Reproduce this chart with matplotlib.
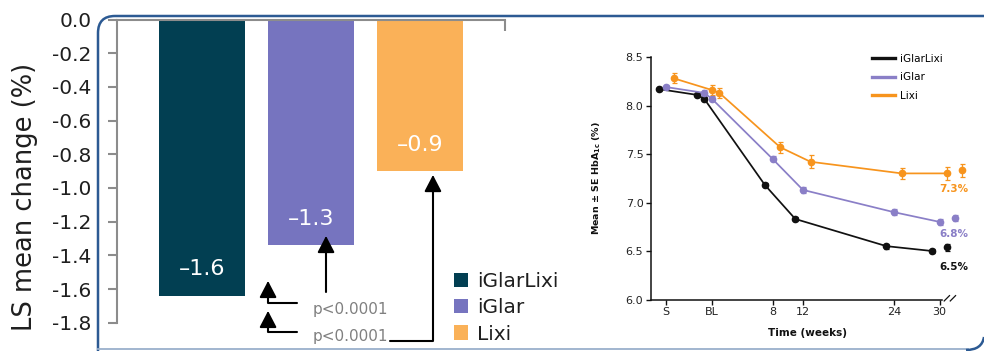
import matplotlib
matplotlib.use("Agg")
import matplotlib.pyplot as plt
from matplotlib.patches import Patch, FancyArrowPatch, PathPatch
from matplotlib.lines import Line2D
from matplotlib.path import Path
from matplotlib.transforms import Affine2D

# ---------------- data ----------------
treatments = ["iGlarLixi", "iGlar", "Lixi"]
ls_mean_change = [-1.64, -1.34, -0.90]
bar_colors = ["#023F52", "#7674BF", "#FAB158"]
yticks = [0.0, -0.2, -0.4, -0.6, -0.8, -1.0, -1.2, -1.4, -1.6, -1.8]
p_labels = ["p<0.0001", "p<0.0001"]

weeks = [-6, -1, 0, 8, 12, 24, 30]
week_ticks = [-6, 0, 8, 12, 24, 30]
week_labels = ["S", "BL", "8", "12", "24", "30"]
endpoint_week = 32
hba1c_ticks = [6.0, 6.5, 7.0, 7.5, 8.0, 8.5]

hba1c_iglarlixi = [8.17, 8.11, 8.07, 7.18, 6.83, 6.55, 6.50]
se_iglarlixi = [0.025, 0.02, 0.02, 0.025, 0.025, 0.025, 0.025]
end_iglarlixi, end_se_iglarlixi = 6.54, 0.035

hba1c_iglar = [8.19, 8.13, 8.07, 7.45, 7.13, 6.90, 6.80]
se_iglar = [0.025, 0.03, 0.025, 0.025, 0.03, 0.03, 0.03]
end_iglar, end_se_iglar = 6.84, 0.035

hba1c_lixi = [8.28, 8.16, 8.13, 7.57, 7.42, 7.30, 7.30]
se_lixi = [0.05, 0.05, 0.05, 0.055, 0.065, 0.06, 0.065]
end_lixi, end_se_lixi = 7.33, 0.065

line_colors = ["#111111", "#8A7FC7", "#F7941D"]

# ---------------- figure ----------------
W, H = 984, 351
fig = plt.figure(figsize=(W / 100, H / 100), dpi=100)
fig.patch.set_facecolor("white")


def rect(l, t, r, b):
    return [l / W, 1 - b / H, (r - l) / W, (b - t) / H]


pix = Affine2D().scale(1 / W, -1 / H).translate(0, 1) + fig.transFigure

# slide frame
frame = Path([(98, 351), (98, 33), (98, 16), (115, 16), (1000, 16)],
             [Path.MOVETO, Path.LINETO, Path.CURVE3, Path.CURVE3, Path.LINETO])
fig.add_artist(PathPatch(frame, transform=pix, fill=False, edgecolor="#2C5A93",
                         lw=1.8, zorder=0))
fig.add_artist(Line2D([98, 968], [349, 349], transform=pix, color="#9AB0CC",
                      lw=1.3, zorder=0))
corner = Path([(966, 350), (982, 350), (984, 337)],
              [Path.MOVETO, Path.CURVE3, Path.CURVE3])
fig.add_artist(PathPatch(corner, transform=pix, fill=False, edgecolor="#2C5A93",
                         lw=1.8, zorder=0))

# ---------------- bar chart ----------------
gray = "#8C8C8C"
ax = fig.add_axes(rect(117, 19.5, 505, 322.7))
xpos = list(range(len(treatments)))
ax.bar(xpos, ls_mean_change, width=0.79, color=bar_colors, zorder=1)
ax.set_xlim(-0.78, 2.78)
ax.set_ylim(-1.8, 0)
for side in ("right", "bottom"):
    ax.spines[side].set_visible(False)
for side in ("left", "top"):
    ax.spines[side].set_color(gray)
    ax.spines[side].set_linewidth(1.5)
ax.set_yticks(yticks)
ax.set_yticklabels([f"{v:.1f}" for v in yticks])
ax.tick_params(axis="y", direction="out", length=6.5, width=1.5, color=gray,
               pad=12, labelsize=14.5, labelcolor="#1F1F1F")
ax.xaxis.tick_top()
ax.set_xticks([2.78])
ax.set_xticklabels([])
ax.tick_params(axis="x", direction="in", length=8, width=1.5, color=gray)

fig.text(25 / W, 1 - 197 / H, "LS mean change (%)", rotation=90,
         ha="center", va="center", fontsize=18.5, color="#1F1F1F")

for xi, v in zip(xpos, ls_mean_change):
    ax.annotate(f"{v:.1f}".replace("-", "\u2013"), xy=(xi, v), xytext=(0, 19),
                textcoords="offset points", ha="center", va="center",
                color="white", fontsize=16)

# significance arrows
arrow_paths = [
    [(0.872, -1.682), (0.606, -1.682), (0.606, -1.552)],
    [(0.872, -1.855), (0.606, -1.855), (0.606, -1.730)],
    [(1.138, -1.617), (1.138, ls_mean_change[1] + 0.055)],
    [(1.725, -1.908), (2.119, -1.908), (2.119, ls_mean_change[2] - 0.023)],
]
for verts in arrow_paths:
    codes = [Path.MOVETO] + [Path.LINETO] * (len(verts) - 1)
    arr = FancyArrowPatch(path=Path(verts, codes),
                          arrowstyle="-|>,head_length=1.0,head_width=0.52",
                          mutation_scale=10, lw=1.5, color="black",
                          clip_on=False, zorder=3)
    ax.add_patch(arr)
for yv, txt in zip([-1.724, -1.884], p_labels):
    ax.text(1.018, yv, txt, color="#808080", fontsize=11, ha="left",
            va="center", clip_on=False)

fig.legend(handles=[Patch(facecolor=c) for c in bar_colors], labels=treatments,
           loc="upper left", bbox_to_anchor=(454 / W, 1 - 272 / H),
           frameon=False, fontsize=14.5, handlelength=0.7, handleheight=0.7,
           handletextpad=0.45, labelspacing=0.36, borderpad=0, borderaxespad=0,
           labelcolor="#1F1F1F")

# ---------------- HbA1c over time ----------------
ax2 = fig.add_axes(rect(651, 57, 970, 299.5))
ax2.set_xlim(-8, 34)
ax2.set_ylim(6.0, 8.5)
series = [
    (hba1c_iglarlixi, se_iglarlixi, end_iglarlixi, end_se_iglarlixi, -1),
    (hba1c_iglar, se_iglar, end_iglar, end_se_iglar, 0),
    (hba1c_lixi, se_lixi, end_lixi, end_se_lixi, 1),
]
for (vals, ses, ev, ese, dodge), col in zip(series, line_colors):
    xs = [w + dodge for w in weeks]
    ax2.errorbar(xs, vals, yerr=ses, color=col, lw=1.25, marker="o", ms=4.5,
                 capsize=1.8, elinewidth=0.9, capthick=0.9, clip_on=False,
                 zorder=3)
    ax2.errorbar([endpoint_week + dodge], [ev], yerr=[ese], color=col,
                 marker="o", ms=4.5, capsize=1.8, elinewidth=0.9, capthick=0.9,
                 ls="none", clip_on=False, zorder=3)

label_offsets = [(5, -14.5), (-1, -11.5), (-6, -13)]
for (vals, ses, ev, ese, dodge), col, off in zip(series, line_colors, label_offsets):
    ax2.annotate(f"{ev:.1f}%", xy=(endpoint_week + dodge, ev), xytext=off,
                 textcoords="offset points", ha="center", va="center",
                 color=col, fontsize=7.5, fontweight="bold")

for side in ("right", "top"):
    ax2.spines[side].set_visible(False)
for side in ("left", "bottom"):
    ax2.spines[side].set_linewidth(1.1)
    ax2.spines[side].set_color("#111111")
ax2.spines["bottom"].set_bounds(-8, 30.3)
ax2.set_yticks(hba1c_ticks)
ax2.set_yticklabels([f"{v:.1f}" for v in hba1c_ticks])
ax2.set_xticks(week_ticks)
ax2.set_xticklabels(week_labels)
ax2.tick_params(length=3.5, width=1, pad=2, labelsize=8, color="#111111",
                labelcolor="#222222")
# axis break mark
for x0 in (30.6, 31.4):
    ax2.plot([x0, x0 + 0.7], [5.985, 6.04], color="#111111", lw=0.9,
             clip_on=False)

ax2.text(0.492, -0.14, "Time (weeks)", transform=ax2.transAxes, ha="center",
         va="center", fontsize=7.5, fontweight="bold", color="#111111")
ax2.text(-0.17, 0.5, "Mean \u00b1 SE HbA$_{\\mathbf{1c}}$ (%)",
         transform=ax2.transAxes, rotation=90, ha="center", va="center",
         fontsize=6.8, fontweight="bold", color="#111111")

ax2.legend(handles=[Line2D([], [], color=c, lw=2.4) for c in line_colors],
           labels=treatments, loc="upper left",
           bbox_to_anchor=(872 / W, 1 - 54 / H),
           bbox_transform=fig.transFigure, frameon=False, fontsize=7.5,
           handlelength=2.2, handletextpad=0.45, labelspacing=0.8,
           borderpad=0, borderaxespad=0)

fig.savefig("out.png", dpi=100, facecolor="white")
